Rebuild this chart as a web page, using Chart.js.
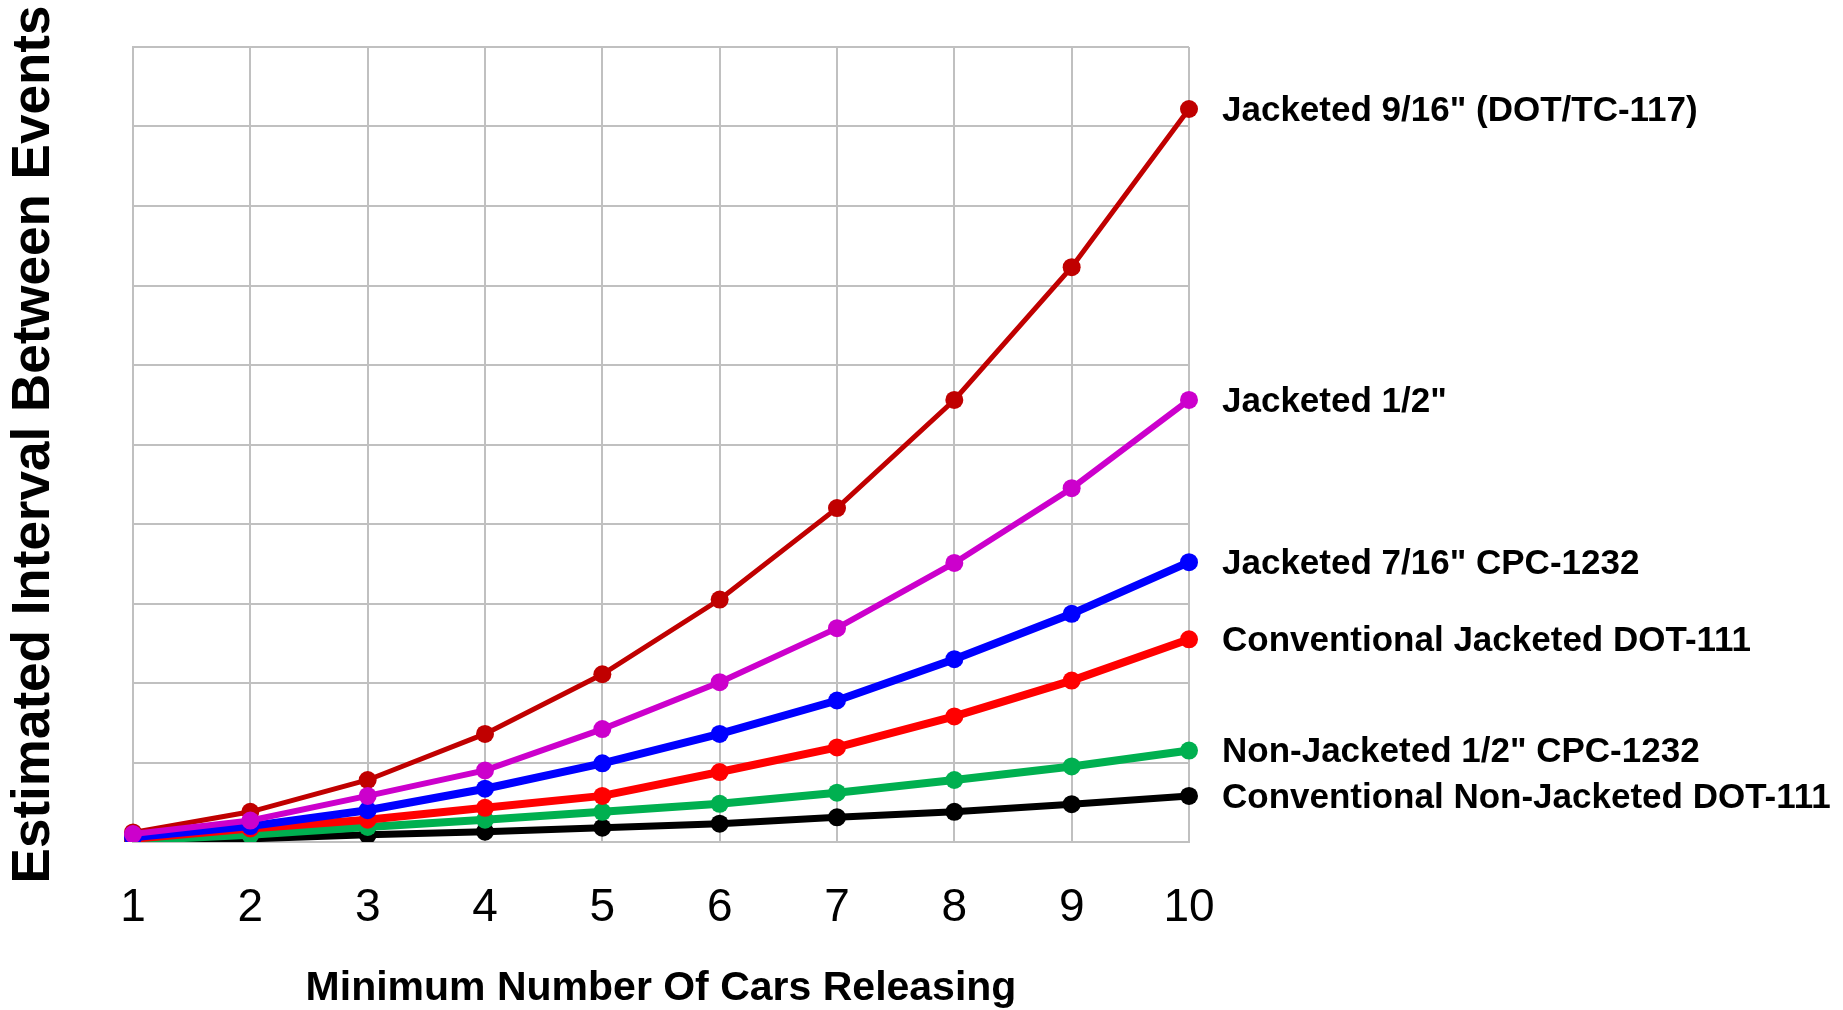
<!DOCTYPE html>
<html>

<head>
    <title>Estimated Interval Between Events</title>
    <script src="https://cdn.jsdelivr.net/npm/chart.js"></script>
    <style>
        body {
            margin: 0;
            background: #ffffff;
        }

        .chart-container {
            width: 1843px;
            height: 1010px;
        }
    </style>
</head>

<body>
    <div class="chart-container">
        <canvas id="intervalChart"></canvas>
    </div>

    <script>
        // x axis categories
        const carsReleasing = ['1', '2', '3', '4', '5', '6', '7', '8', '9', '10'];

        // series names (also used as the labels at the right end of each line)
        const seriesNames = [
            'Jacketed 9/16" (DOT/TC-117)',
            'Jacketed 1/2"',
            'Jacketed 7/16" CPC-1232',
            'Conventional Jacketed DOT-111',
            'Non-Jacketed 1/2" CPC-1232',
            'Conventional Non-Jacketed DOT-111'
        ];

        // values (y axis has no labels, scale 0-100)
        const jacketed916 = [1.2, 3.8, 7.8, 13.6, 21.1, 30.5, 42.0, 55.6, 72.3, 92.2];
        const jacketed12 = [1.0, 2.7, 5.8, 9.0, 14.2, 20.1, 26.9, 35.1, 44.5, 55.6];
        const jacketed716 = [0.6, 2.0, 4.0, 6.7, 9.9, 13.6, 17.8, 23.0, 28.7, 35.2];
        const convJacketed = [0.4, 1.7, 2.8, 4.3, 5.8, 8.8, 11.9, 15.8, 20.3, 25.5];
        const nonJacketed12 = [0.2, 0.9, 1.9, 2.8, 3.8, 4.8, 6.2, 7.8, 9.5, 11.5];
        const convNonJacketed = [0.1, 0.4, 0.9, 1.3, 1.8, 2.3, 3.1, 3.8, 4.75, 5.8];

        const fontFamily = "'Liberation Sans', Arial, sans-serif";

        function makeSet(i, data, color, width, drawOrder) {
            return {
                label: seriesNames[i],
                data: data,
                borderColor: color,
                backgroundColor: color,
                borderWidth: width,
                pointRadius: 9,
                pointHoverRadius: 9,
                pointBorderWidth: 0,
                fill: false,
                tension: 0,
                order: drawOrder
            };
        }

        // writes each series name next to its last point
        const endLabels = {
            id: 'endLabels',
            afterDatasetsDraw(chart) {
                const ctx = chart.ctx;
                ctx.save();
                ctx.font = 'bold 35px ' + fontFamily;
                ctx.fillStyle = '#000000';
                ctx.textAlign = 'left';
                ctx.textBaseline = 'middle';
                chart.data.datasets.forEach((ds, i) => {
                    const meta = chart.getDatasetMeta(i);
                    const last = meta.data[meta.data.length - 1];
                    ctx.fillText(ds.label, last.x + 33, last.y + 2);
                });
                ctx.restore();
            }
        };

        const ctx = document.getElementById('intervalChart').getContext('2d');

        new Chart(ctx, {
            type: 'line',
            data: {
                labels: carsReleasing,
                datasets: [
                    makeSet(0, jacketed916, '#c00000', 5, 2),
                    makeSet(1, jacketed12, '#cc00cc', 6, 1),
                    makeSet(2, jacketed716, '#0000ff', 8, 3),
                    makeSet(3, convJacketed, '#ff0000', 8, 4),
                    makeSet(4, nonJacketed12, '#00b050', 8, 5),
                    makeSet(5, convNonJacketed, '#000000', 7, 6)
                ]
            },
            options: {
                responsive: true,
                maintainAspectRatio: false,
                animation: false,
                layout: {
                    padding: { left: 0, right: 654, top: 47, bottom: 0 }
                },
                plugins: {
                    legend: { display: false },
                    tooltip: { enabled: false }
                },
                scales: {
                    x: {
                        grid: {
                            color: '#c0c0c0',
                            lineWidth: 2,
                            drawTicks: false
                        },
                        border: { color: '#c0c0c0', width: 2 },
                        ticks: {
                            color: '#000000',
                            padding: 39,
                            font: { family: fontFamily, size: 46 }
                        },
                        title: {
                            display: true,
                            text: 'Minimum Number Of Cars Releasing',
                            color: '#000000',
                            font: { family: fontFamily, size: 41, weight: 'bold', lineHeight: 1 },
                            padding: { top: 0, bottom: 1 }
                        },
                        afterFit(scale) {
                            scale.height = 168;
                        }
                    },
                    y: {
                        min: 0,
                        max: 100,
                        grid: {
                            color: '#c0c0c0',
                            lineWidth: 2,
                            drawTicks: false
                        },
                        border: { color: '#c0c0c0', width: 2 },
                        ticks: {
                            stepSize: 10,
                            display: false
                        },
                        title: {
                            display: true,
                            text: 'Estimated Interval Between Events',
                            color: '#000000',
                            font: { family: fontFamily, size: 53, weight: 'bold', lineHeight: 1 },
                            padding: { top: 8, bottom: 0 }
                        },
                        afterFit(scale) {
                            scale.width = 133;
                        }
                    }
                }
            },
            plugins: [endLabels]
        });
    </script>
</body>

</html>
